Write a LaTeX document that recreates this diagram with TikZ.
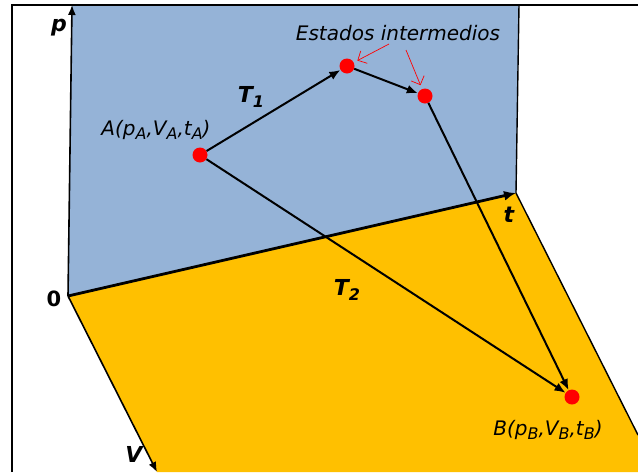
\documentclass[tikz,border=0pt]{standalone}
\usepackage{fontspec}
\setmainfont{DejaVu Sans}
\usepackage{tikz}
\usetikzlibrary{arrows.meta}

\definecolor{planoazul}{HTML}{95B3D7}
\definecolor{planoamarillo}{HTML}{FFC000}
\newcommand{\subind}[1]{\raisebox{-0.4ex}{\fontsize{16}{16}\selectfont #1}}

\begin{document}
\begin{tikzpicture}[x=1pt, y=-1pt,
    estado/.style = {circle, fill=red, inner sep=0pt, minimum size=15pt},
    eje/.style = {font=\fontsize{22}{22}\selectfont\bfseries\itshape},
    rotulo/.style = {font=\fontsize{20}{20}\selectfont\itshape, inner sep=0pt},
    camino/.style = {line width=2pt, -{Latex[length=11pt,width=9pt]}}]
    \useasboundingbox (0,0) rectangle (638,472);

    % ejes
    \coordinate (O) at (68,296);
    \coordinate (P) at (72,5);
    \coordinate (T) at (516,193);
    \coordinate (V) at (157,472);

    % planos
    \fill[planoazul] (O) -- (P) -- (519,5) -- (T) -- cycle;
    \fill[planoamarillo] (O) -- (T) -- (638,435) -- (638,472) -- (V) -- cycle;
    \draw[line width=1.4pt] (519,5) -- (T);
    \draw[line width=1.4pt] (T) -- (638,435);
    \draw[line width=1.8pt] (12,472) -- (12,5) -- (638,5);

    \draw[line width=1.6pt, -{Latex[length=10pt,width=8pt]}] (O) -- (P);
    \draw[line width=2.8pt, -{Latex[length=12pt,width=10pt]}] (O) -- (T);
    \draw[line width=1.6pt, -{Latex[length=10pt,width=8pt]}] (O) -- (V);

    \node[eje] (lp) at (59,28) {p};
    \node[eje] (lt) at (509,215) {t};
    \node[eje] (lv) at (134,454) {V};
    \node[eje, font=\fontsize{21}{21}\selectfont\bfseries] (l0) at (54,299) {0};

    % estados
    \node[estado] (A) at (200,155) {};
    \node[estado] (I1) at (347,66) {};
    \node[estado] (I2) at (425,96) {};
    \node[estado] (B) at (572,397) {};

    \node[rotulo] (lA) at (156,130) {A(p\subind{A},V\subind{A},t\subind{A})};
    \node[rotulo] (lB) at (548,430) {B(p\subind{B},V\subind{B},t\subind{B})};
    \node[rotulo] (est) at (398,33) {Estados intermedios};
    \node[eje] (T1) at (251,97) {T\subind{\bfseries 1}};
    \node[eje] (T2) at (347,290) {T\subind{\bfseries 2}};

    \path[camino] (A) edge (I1);
    \path[camino] (I1) edge (I2);
    \path[camino] (I2) edge (B);
    \path[camino] (A) edge (B);

    % flechas rojas
    \coordinate (e1) at (389,44);
    \coordinate (e2) at (406,50);
    \draw[red, line width=0.7pt, shorten >=4pt, -{Straight Barb[length=7pt]}] (e1) -- (I1);
    \draw[red, line width=0.7pt, shorten >=4pt, -{Straight Barb[length=7pt]}] (e2) -- (I2);
\end{tikzpicture}
\end{document}
